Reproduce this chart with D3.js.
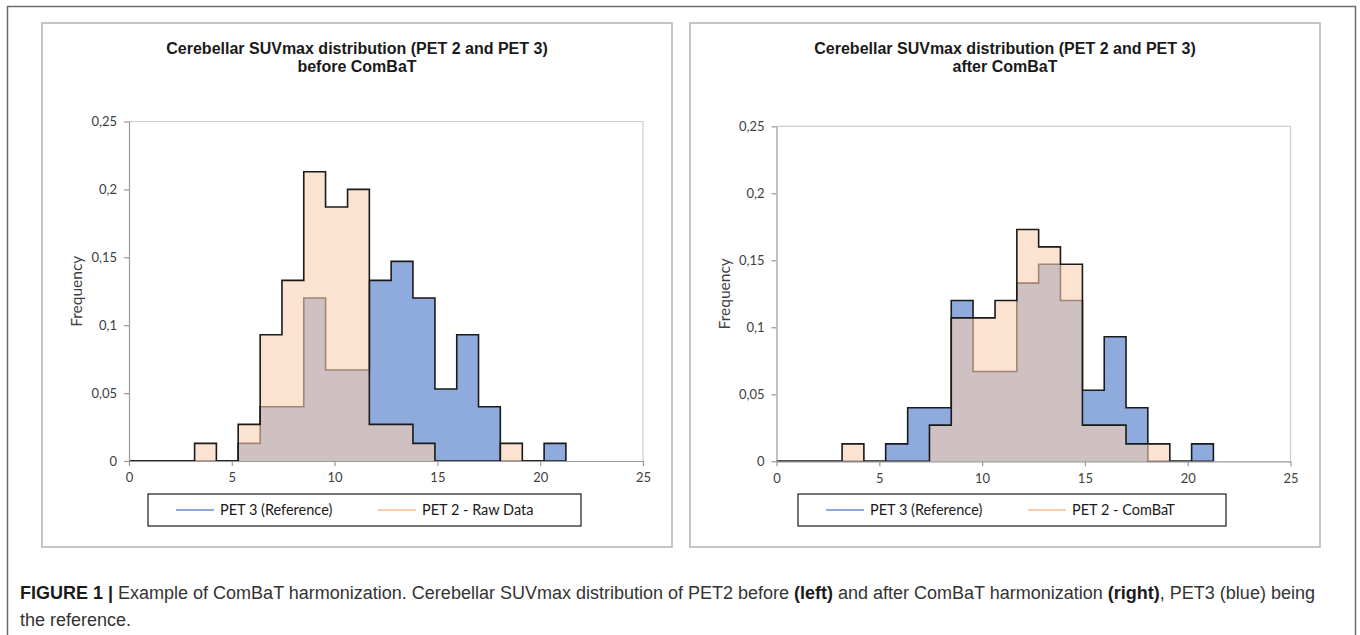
<!DOCTYPE html>
<html>
<head>
<meta charset="utf-8">
<script src="https://cdn.jsdelivr.net/npm/d3@7"></script>
<style>
body { margin: 0; background: #fff; }
</style>
</head>
<body>
<svg class="d3svg" width="1360" height="635"></svg>
<script>
// bin edges (SUVmax), 20 bins
var bin_edges = [0, 1.06, 2.13, 3.19, 4.25, 5.31, 6.38, 7.44, 8.5, 9.56, 10.63,
                 11.69, 12.75, 13.81, 14.88, 15.94, 17, 18.06, 19.13, 20.19, 21.25];

// PET 3 (reference) - same on both panels
var pet3_freq = [0, 0, 0, 0, 0, 0.013, 0.04, 0.04, 0.12, 0.067,
                 0.067, 0.133, 0.147, 0.12, 0.053, 0.093, 0.04, 0, 0, 0.013];
// PET 2 raw data
var pet2_raw = [0, 0, 0, 0.013, 0, 0.027, 0.093, 0.133, 0.213, 0.187,
                0.2, 0.027, 0.027, 0.013, 0, 0, 0, 0.013, 0, 0];
// PET 2 after ComBaT
var pet2_combat = [0, 0, 0, 0.013, 0, 0, 0, 0.027, 0.107, 0.107,
                   0.12, 0.173, 0.16, 0.147, 0.027, 0.027, 0.013, 0.013, 0, 0];

var x_ticks = [0, 5, 10, 15, 20, 25];
var y_ticks = [0, 0.05, 0.1, 0.15, 0.2, 0.25];
var y_tick_labels = ["0", "0,05", "0,1", "0,15", "0,2", "0,25"];

var titles = ["before ComBaT", "after ComBaT"];
var legend_labels = [["PET 3 (Reference)", "PET 2 - Raw Data"],
                     ["PET 3 (Reference)", "PET 2 - ComBaT"]];

blue_fill = 'rgba(68,114,196,0.6)';
peach_fill = 'rgba(250,207,177,0.6)';
blue_line = '#8FAADC';
peach_line = '#F8CBAD';
axis_color = '#999999';
text_color = '#404040';

var svg = d3.select(".d3svg");

// outer frame of the figure
svg.append("path")
    .attr("d", "M7.5,640 V6.5 H1355.5 V640")
    .attr("fill", "none")
    .attr("stroke", "#6b6b6b")
    .attr("stroke-width", 1.5);

function step_points(vals) {
    var pts = vals.map(function(v, k) { return {x: bin_edges[k], y: v}; });
    pts.push({x: bin_edges[vals.length], y: vals[vals.length - 1]});
    pts.push({x: bin_edges[vals.length], y: 0});
    return pts;
}

function draw_panel(p) {
    var g = svg.append("g");

    g.append("rect")
        .attr("x", p.box[0]).attr("y", p.box[1])
        .attr("width", p.box[2]).attr("height", p.box[3])
        .attr("fill", "#fff")
        .attr("stroke", "#b3b3b3")
        .attr("stroke-width", 1.5);

    var cx = p.box[0] + p.box[2] / 2;
    var title = g.append("text")
        .attr("text-anchor", "middle")
        .attr("font-family", "Liberation Sans, Arial, sans-serif")
        .attr("font-weight", "bold")
        .attr("font-size", 16)
        .attr("fill", "#1a1a1a");
    title.append("tspan").attr("x", cx).attr("y", 54)
        .text("Cerebellar SUVmax distribution (PET 2 and PET 3)");
    title.append("tspan").attr("x", cx).attr("y", 72)
        .text(p.title);

    var x = d3.scaleLinear().domain([0, 25]).range([p.left, p.right]);
    var y = d3.scaleLinear().domain([0, 0.25]).range([p.bottom, p.top]);

    // plot area border
    g.append("path")
        .attr("d", "M" + p.left + "," + p.top + " H" + p.right + " V" + p.bottom)
        .attr("fill", "none")
        .attr("stroke", "#cccccc")
        .attr("stroke-width", 1.2);

    var area = d3.area()
        .curve(d3.curveStepAfter)
        .x(function(d) { return x(d.x); })
        .y0(y(0))
        .y1(function(d) { return y(d.y); });
    var line = d3.line()
        .curve(d3.curveStepAfter)
        .x(function(d) { return x(d.x); })
        .y(function(d) { return y(d.y); });

    var ref = step_points(pet3_freq);
    var pet2 = step_points(p.pet2);

    g.append("path").attr("d", area(ref)).attr("fill", blue_fill);
    g.append("path").attr("d", line(ref))
        .attr("fill", "none").attr("stroke", "#1a1a1a").attr("stroke-width", 1.6);
    g.append("path").attr("d", area(pet2)).attr("fill", peach_fill);
    g.append("path").attr("d", line(pet2))
        .attr("fill", "none").attr("stroke", "#1a1a1a").attr("stroke-width", 1.6);

    // axes
    var xAxis = g.append("g")
        .attr("transform", "translate(0," + p.bottom + ")")
        .call(d3.axisBottom(x).tickValues(x_ticks).tickSize(5).tickSizeOuter(0).tickPadding(7));
    var yAxis = g.append("g")
        .attr("transform", "translate(" + p.left + ",0)")
        .call(d3.axisLeft(y).tickValues(y_ticks).tickSize(5).tickSizeOuter(0).tickPadding(7)
            .tickFormat(function(d, i) { return y_tick_labels[i]; }));
    [xAxis, yAxis].forEach(function(a) {
        a.selectAll("path, line").attr("stroke", axis_color).attr("stroke-width", 1.2);
        a.selectAll("text")
            .attr("font-family", "Lato, Open Sans, sans-serif")
            .attr("font-size", 13)
            .attr("fill", text_color);
    });

    g.append("text")
        .attr("transform", "translate(" + (p.left - 47) + "," + ((p.top + p.bottom) / 2) + ") rotate(-90)")
        .attr("text-anchor", "middle")
        .attr("font-family", "Lato, Open Sans, sans-serif")
        .attr("font-size", 15.5)
        .attr("fill", text_color)
        .text("Frequency");

    // legend
    var lg = g.append("g");
    lg.append("rect")
        .attr("x", p.legend[0]).attr("y", 494)
        .attr("width", p.legend[1]).attr("height", 32)
        .attr("fill", "#fff")
        .attr("stroke", "#1a1a1a")
        .attr("stroke-width", 1.2);
    var items = [{c: blue_line, t: p.labels[0], x: p.legend[0] + 28},
                 {c: peach_line, t: p.labels[1], x: p.legend[0] + 230}];
    items.forEach(function(it) {
        lg.append("line")
            .attr("x1", it.x).attr("x2", it.x + 38)
            .attr("y1", 510).attr("y2", 510)
            .attr("stroke", it.c).attr("stroke-width", 1.8);
        lg.append("text")
            .attr("x", it.x + 44).attr("y", 515)
            .attr("font-family", "Lato, Open Sans, sans-serif")
            .attr("font-size", 14.5)
            .attr("fill", "#1a1a1a")
            .text(it.t);
    });
}

draw_panel({box: [42, 23, 630, 524], left: 129, right: 643, top: 121.5, bottom: 461,
            title: titles[0], pet2: pet2_raw, labels: legend_labels[0], legend: [148, 433]});
draw_panel({box: [690, 23, 630, 524], left: 776.5, right: 1290.5, top: 126.3, bottom: 461.3,
            title: titles[1], pet2: pet2_combat, labels: legend_labels[1], legend: [798, 428]});

// caption
var cap = svg.append("text")
    .attr("font-family", "Liberation Sans, Arial, sans-serif")
    .attr("font-size", 18)
    .attr("fill", "#333333");
var l1 = cap.append("tspan").attr("x", 20).attr("y", 599);
l1.append("tspan").attr("font-weight", "bold").attr("fill", "#1a1a1a").text("FIGURE 1 |");
l1.append("tspan").text(" Example of ComBaT harmonization. Cerebellar SUVmax distribution of PET2 before ");
l1.append("tspan").attr("font-weight", "bold").attr("fill", "#1a1a1a").text("(left)");
l1.append("tspan").text(" and after ComBaT harmonization ");
l1.append("tspan").attr("font-weight", "bold").attr("fill", "#1a1a1a").text("(right)");
l1.append("tspan").text(", PET3 (blue) being");
cap.append("tspan").attr("x", 20).attr("y", 626).text("the reference.");
</script>
</body>
</html>
